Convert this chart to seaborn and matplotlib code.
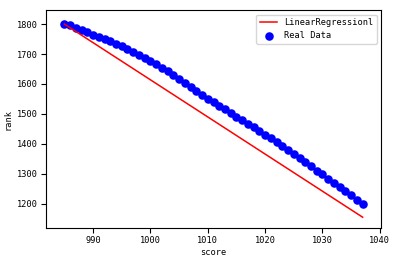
import matplotlib
matplotlib.use("Agg")
import matplotlib.pyplot as plt
import seaborn as sns
import pandas as pd

scores = list(range(985, 1038))
ranks = [1800, 1796, 1788, 1780, 1772, 1765, 1758, 1751, 1743, 1735,
         1726, 1717, 1707, 1697, 1688, 1678, 1666, 1654, 1642, 1629,
         1616, 1603, 1590, 1577, 1564, 1551, 1539, 1527, 1515, 1503,
         1491, 1479, 1467, 1455, 1443, 1431, 1418, 1405, 1392, 1379,
         1366, 1352, 1339, 1325, 1311, 1298, 1284, 1270, 1256, 1242,
         1228, 1214, 1200]
line_x = [985, 1037]
line_y = [1800, 1155]

plt.rcParams['font.family'] = ['DejaVu Sans Mono', 'DejaVu Sans']
plt.rcParams['font.size'] = 6.2

fig = plt.figure(figsize=(3.97, 2.62), dpi=100)
ax = fig.add_axes([46/397, 1-228/262, (381-46)/397, (228-10.3)/262])

sns.lineplot(x=line_x, y=line_y, ax=ax, color='red', linewidth=1.1,
             label='LinearRegressionl')
sns.scatterplot(x=scores, y=ranks, ax=ax, color='blue', s=38, linewidth=0,
                label='Real Data')

ax.set_xlim(981.8, 1040.2)
ax.set_ylim(1119, 1846)
ax.set_xticks([990, 1000, 1010, 1020, 1030, 1040])
ax.set_yticks([1200, 1300, 1400, 1500, 1600, 1700, 1800])
ax.set_xlabel('score', labelpad=2)
ax.set_ylabel('rank', labelpad=3)
ax.tick_params(length=3.5, width=0.8, pad=2.5)
for s in ax.spines.values():
    s.set_linewidth(0.8)
ax.legend(loc='upper right', fontsize=6.2, frameon=True)

fig.savefig('out.png', dpi=100)
